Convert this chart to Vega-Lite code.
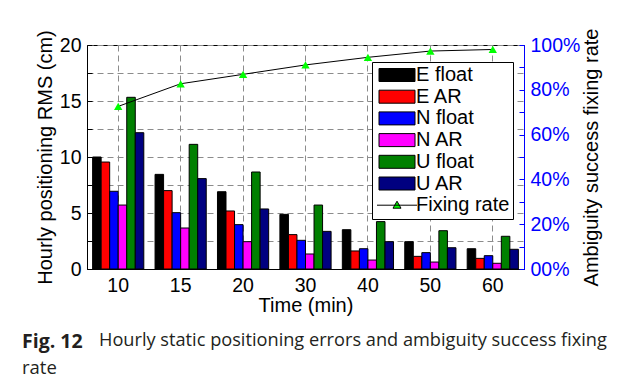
{
  "$schema": "https://vega.github.io/schema/vega-lite/v6.json",
  "padding": {"left": 21, "top": 27, "right": 5, "bottom": 5},
  "background": "white",
  "config": {
    "font": "Liberation Sans",
    "view": {"stroke": "black", "strokeWidth": 1},
    "axis": {
      "labelFont": "Liberation Sans",
      "labelFontSize": 19.5,
      "labelColor": "black",
      "titleFont": "Liberation Sans",
      "titleFontSize": 20,
      "titleFontWeight": "normal",
      "titleColor": "black",
      "domainColor": "black",
      "tickColor": "black",
      "gridColor": "#8c8c8c",
      "gridDash": [6, 4],
      "gridWidth": 1
    }
  },
  "title": {
    "text": "Hourly static positioning errors and ambiguity success fixing",
    "orient": "bottom",
    "anchor": "start",
    "frame": "group",
    "dx": 12,
    "offset": -46,
    "font": "Open Sans",
    "fontSize": 18.2,
    "fontWeight": "normal",
    "color": "#231f20"
  },
  "datasets": {
    "rms": [
      {"time": 10, "series": "E float", "rms": 10.0},
      {"time": 10, "series": "E AR", "rms": 9.55},
      {"time": 10, "series": "N float", "rms": 6.94},
      {"time": 10, "series": "N AR", "rms": 5.71},
      {"time": 10, "series": "U float", "rms": 15.33},
      {"time": 10, "series": "U AR", "rms": 12.17},
      {"time": 15, "series": "E float", "rms": 8.45},
      {"time": 15, "series": "E AR", "rms": 7.0},
      {"time": 15, "series": "N float", "rms": 5.03},
      {"time": 15, "series": "N AR", "rms": 3.66},
      {"time": 15, "series": "U float", "rms": 11.13},
      {"time": 15, "series": "U AR", "rms": 8.07},
      {"time": 20, "series": "E float", "rms": 6.9},
      {"time": 20, "series": "E AR", "rms": 5.18},
      {"time": 20, "series": "N float", "rms": 3.96},
      {"time": 20, "series": "N AR", "rms": 2.44},
      {"time": 20, "series": "U float", "rms": 8.66},
      {"time": 20, "series": "U AR", "rms": 5.36},
      {"time": 30, "series": "E float", "rms": 4.88},
      {"time": 30, "series": "E AR", "rms": 3.07},
      {"time": 30, "series": "N float", "rms": 2.56},
      {"time": 30, "series": "N AR", "rms": 1.34},
      {"time": 30, "series": "U float", "rms": 5.71},
      {"time": 30, "series": "U AR", "rms": 3.36},
      {"time": 40, "series": "E float", "rms": 3.51},
      {"time": 40, "series": "E AR", "rms": 1.61},
      {"time": 40, "series": "N float", "rms": 1.81},
      {"time": 40, "series": "N AR", "rms": 0.8},
      {"time": 40, "series": "U float", "rms": 4.23},
      {"time": 40, "series": "U AR", "rms": 2.44},
      {"time": 50, "series": "E float", "rms": 2.44},
      {"time": 50, "series": "E AR", "rms": 1.13},
      {"time": 50, "series": "N float", "rms": 1.46},
      {"time": 50, "series": "N AR", "rms": 0.62},
      {"time": 50, "series": "U float", "rms": 3.42},
      {"time": 50, "series": "U AR", "rms": 1.9},
      {"time": 60, "series": "E float", "rms": 1.81},
      {"time": 60, "series": "E AR", "rms": 0.95},
      {"time": 60, "series": "N float", "rms": 1.19},
      {"time": 60, "series": "N AR", "rms": 0.51},
      {"time": 60, "series": "U float", "rms": 2.92},
      {"time": 60, "series": "U AR", "rms": 1.76}
    ],
    "rate": [
      {"time": 10, "rate": 0.726},
      {"time": 15, "rate": 0.827},
      {"time": 20, "rate": 0.869},
      {"time": 30, "rate": 0.911},
      {"time": 40, "rate": 0.945},
      {"time": 50, "rate": 0.973},
      {"time": 60, "rate": 0.98}
    ]
  },
  "vconcat": [
    {
      "width": 437,
      "height": 224,
      "title": {
        "text": "Fig. 12",
        "subtitle": "rate",
        "orient": "bottom",
        "anchor": "start",
        "frame": "group",
        "dx": -65,
        "offset": 17,
        "font": "Open Sans",
        "fontSize": 19.5,
        "fontWeight": "bold",
        "color": "#231f20",
        "subtitleFont": "Open Sans",
        "subtitleFontSize": 18.5,
        "subtitleFontWeight": "normal",
        "subtitleColor": "#231f20",
        "subtitlePadding": 7
      },
      "layer": [
        {
          "data": {"name": "rms"},
          "mark": {"type": "bar", "stroke": "black", "strokeWidth": 1},
          "encoding": {
            "x": {
              "field": "time",
              "type": "ordinal",
              "scale": {"paddingInner": 0.18, "paddingOuter": 0.09},
              "axis": {
                "title": "Time (min)",
                "labelAngle": 0,
                "grid": true,
                "bandPosition": 0.5,
                "tickSize": -5,
                "labelPadding": 12,
                "titlePadding": 1
              }
            },
            "xOffset": {
              "field": "series",
              "sort": ["E float", "E AR", "N float", "N AR", "U float", "U AR"],
              "scale": {"paddingInner": 0, "paddingOuter": 0}
            },
            "y": {
              "field": "rms",
              "type": "quantitative",
              "scale": {"domain": [0, 20], "nice": false},
              "axis": {
                "title": "Hourly positioning RMS (cm)",
                "values": [0, 2.5, 5, 7.5, 10, 12.5, 15, 17.5, 20],
                "labelExpr": "datum.value % 5 === 0 ? datum.label : ''",
                "grid": true,
                "tickSize": -5,
                "labelPadding": 11,
                "titlePadding": 4
              }
            },
            "color": {
              "field": "series",
              "type": "nominal",
              "scale": {
                "domain": ["E float", "E AR", "N float", "N AR", "U float", "U AR", "Fixing rate"],
                "range": ["#000000", "#ff0000", "#0000ff", "#ff00ff", "#008000", "#000080", "#00ff00"]
              },
              "legend": {
                "orient": "none",
                "legendX": 285,
                "legendY": 17,
                "title": null,
                "fillColor": "white",
                "strokeColor": "black",
                "padding": 3,
                "labelFont": "Liberation Sans",
                "labelFontSize": 20,
                "labelColor": "black",
                "symbolSize": 100,
                "symbolOffset": 12,
                "labelOffset": 9,
                "rowPadding": 1.7,
                "symbolStrokeColor": "black",
                "symbolStrokeWidth": 1,
                "encode": {
                  "symbols": {
                    "update": {
                      "shape": {"signal": "datum.value === 'Fixing rate' ? 'M-4,0H4M0,-0.8L0.8,0.6L-0.8,0.6Z' : 'M-3.6,-1.3H3.6V1.3H-3.6Z'"}
                    }
                  }
                }
              }
            }
          }
        },
        {
          "data": {"name": "rate"},
          "mark": {
            "type": "line",
            "color": "black",
            "strokeWidth": 1,
            "point": {"filled": true, "color": "#00ff00", "shape": "triangle-up", "size": 70}
          },
          "encoding": {
            "x": {"field": "time", "type": "ordinal"},
            "y": {
              "field": "rate",
              "type": "quantitative",
              "scale": {"domain": [0, 1], "nice": false},
              "axis": {
                "orient": "right",
                "title": "Ambiguity success fixing rate",
                "values": [0, 0.1, 0.2, 0.3, 0.4, 0.5, 0.6, 0.7, 0.8, 0.9, 1],
                "labelExpr": "datum.value === 0 ? '00%' : (round(datum.value * 10) % 2 === 0 ? format(datum.value, '.0%') : '')",
                "grid": false,
                "tickSize": -5,
                "labelPadding": 11,
                "labelColor": "#0000ff",
                "domainColor": "#0000ff",
                "tickColor": "#0000ff",
                "titleAngle": 270,
                "titleBaseline": "top",
                "titlePadding": 2
              }
            }
          }
        }
      ],
      "resolve": {"scale": {"y": "independent"}}
    }
  ]
}
